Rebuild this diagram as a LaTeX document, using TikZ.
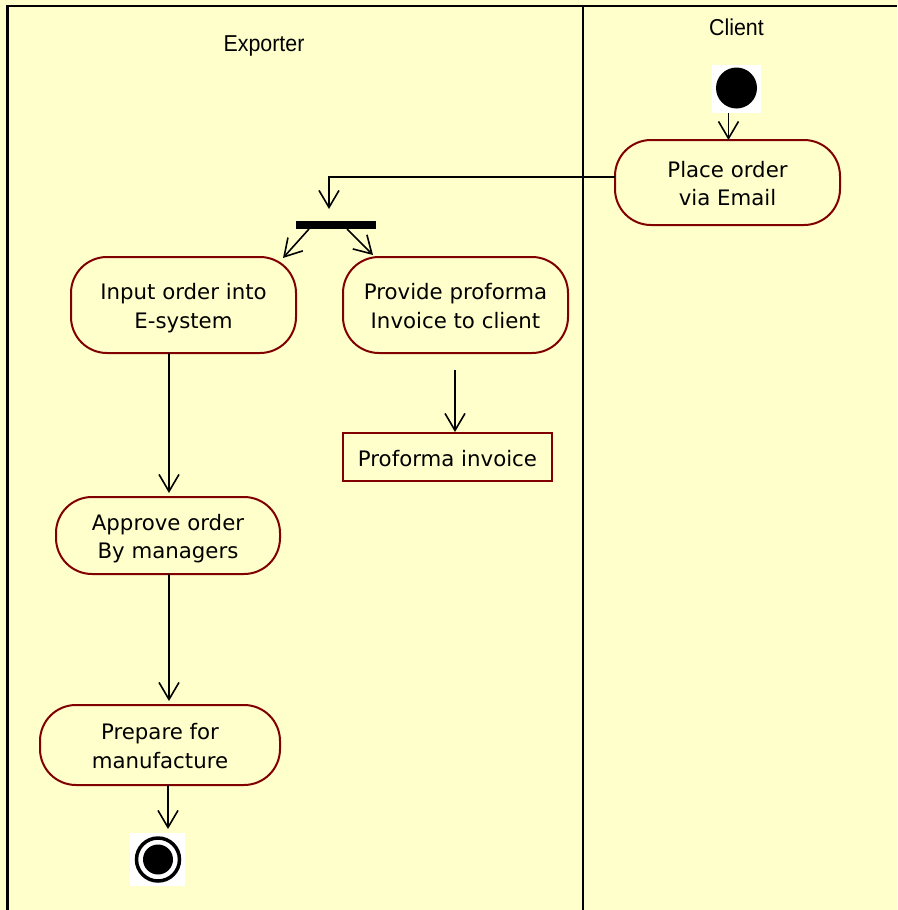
\documentclass[tikz,border=0pt]{standalone}
\usepackage{fontspec}
\setmainfont{DejaVu Sans}
\newfontfamily\lanefont[FakeStretch=0.93]{Liberation Sans}
\usetikzlibrary{arrows.meta}
\definecolor{bg}{HTML}{FFFFCC}
\definecolor{dred}{HTML}{800000}
\newcommand{\lowtext}[1]{\raisebox{-3.5pt}[\height][\depth]{\begin{tabular}{@{}c@{}}#1\end{tabular}}}
\begin{document}
\begin{tikzpicture}[x=1pt,y=-1pt,
  act/.style={draw=dred, line width=2pt, fill=bg, rounded corners=36pt, inner sep=0pt,
    align=center, font=\fontsize{21.3}{28.5}\selectfont},
  objbox/.style={draw=dred, line width=2pt, fill=bg, inner sep=0pt,
    font=\fontsize{21.3}{28.5}\selectfont},
  lane/.style={font=\lanefont\fontsize{23}{26}\selectfont, anchor=base},
  arr/.style={draw=black, line width=1.6pt, -{Straight Barb[length=17pt,width=20pt,line width=1.6pt]}},
  frame/.style={draw=black, line width=2.2pt}]
\useasboundingbox (0,0) rectangle (897,910);
\fill[bg] (0,0) rectangle (897,910);
% swimlane frame
\draw[frame] (7.5,910) -- (7.5,6) -- (897,6);
\draw[frame] (583,6) -- (583,910);
\node[lane] (exporter) at (264,51) {Exporter};
\node[lane] (client) at (736.5,35) {Client};
% start
\node[fill=white, minimum width=49pt, minimum height=48pt, inner sep=0pt] (startbg) at (736.5,89) {};
\node[circle, fill=black, minimum size=41pt, inner sep=0pt] (start) at (736.5,88) {};
% activities
\node[act, minimum width=225pt, minimum height=85pt] (place) at (727.5,182.5) {\lowtext{Place order\\via Email}};
\node[fill=black, minimum width=80pt, minimum height=8pt, inner sep=0pt] (fork) at (336,225) {};
\node[act, minimum width=225pt, minimum height=96pt] (input) at (183.5,305) {\lowtext{Input order into\\E-system}};
\node[act, minimum width=225pt, minimum height=96pt] (provide) at (455.5,305) {\lowtext{Provide proforma\\Invoice to client}};
\node[objbox, minimum width=209pt, minimum height=48pt] (pinv) at (447.5,457) {\lowtext{Proforma invoice}};
\node[act, minimum width=224pt, minimum height=77pt] (approve) at (168,535.5) {\lowtext{Approve order\\By managers}};
\node[act, minimum width=240pt, minimum height=80pt] (prepare) at (160,745) {\lowtext{Prepare for\\manufacture}};
% end
\node[fill=white, minimum width=55pt, minimum height=53pt, inner sep=0pt] (endbg) at (157,859.5) {};
\node[circle, draw=black, line width=3.5pt, minimum size=43pt, inner sep=0pt] (endring) at (158,859.5) {};
\node[circle, fill=black, minimum size=30pt, inner sep=0pt] (enddot) at (158,859.5) {};
% helper coordinates
\coordinate (startout) at (728.5,113);
\coordinate (placein) at (728.5,140);
\coordinate (placeout) at (615,177);
\coordinate (forkin) at (329,209);
\coordinate (forkl) at (309,229);
\coordinate (forkr) at (347,229);
\coordinate (inputin) at (283,258);
\coordinate (providein) at (373,255);
\coordinate (provout) at (455,370);
\coordinate (pinvin) at (455,432);
\coordinate (inputout) at (169,353);
\coordinate (approvein) at (169,493);
\coordinate (approveout) at (169,574);
\coordinate (preparein) at (169,701);
\coordinate (prepareout) at (168,785);
\coordinate (endin) at (168,829);
% connectors
\draw[arr] (startout) -- (placein);
\draw[arr] (placeout) -| (forkin);
\draw[arr] (forkl) -- (inputin);
\draw[arr] (forkr) -- (providein);
\draw[arr] (provout) -- (pinvin);
\draw[arr] (inputout) -- (approvein);
\draw[arr] (approveout) -- (preparein);
\draw[arr] (prepareout) -- (endin);
\end{tikzpicture}
\end{document}
